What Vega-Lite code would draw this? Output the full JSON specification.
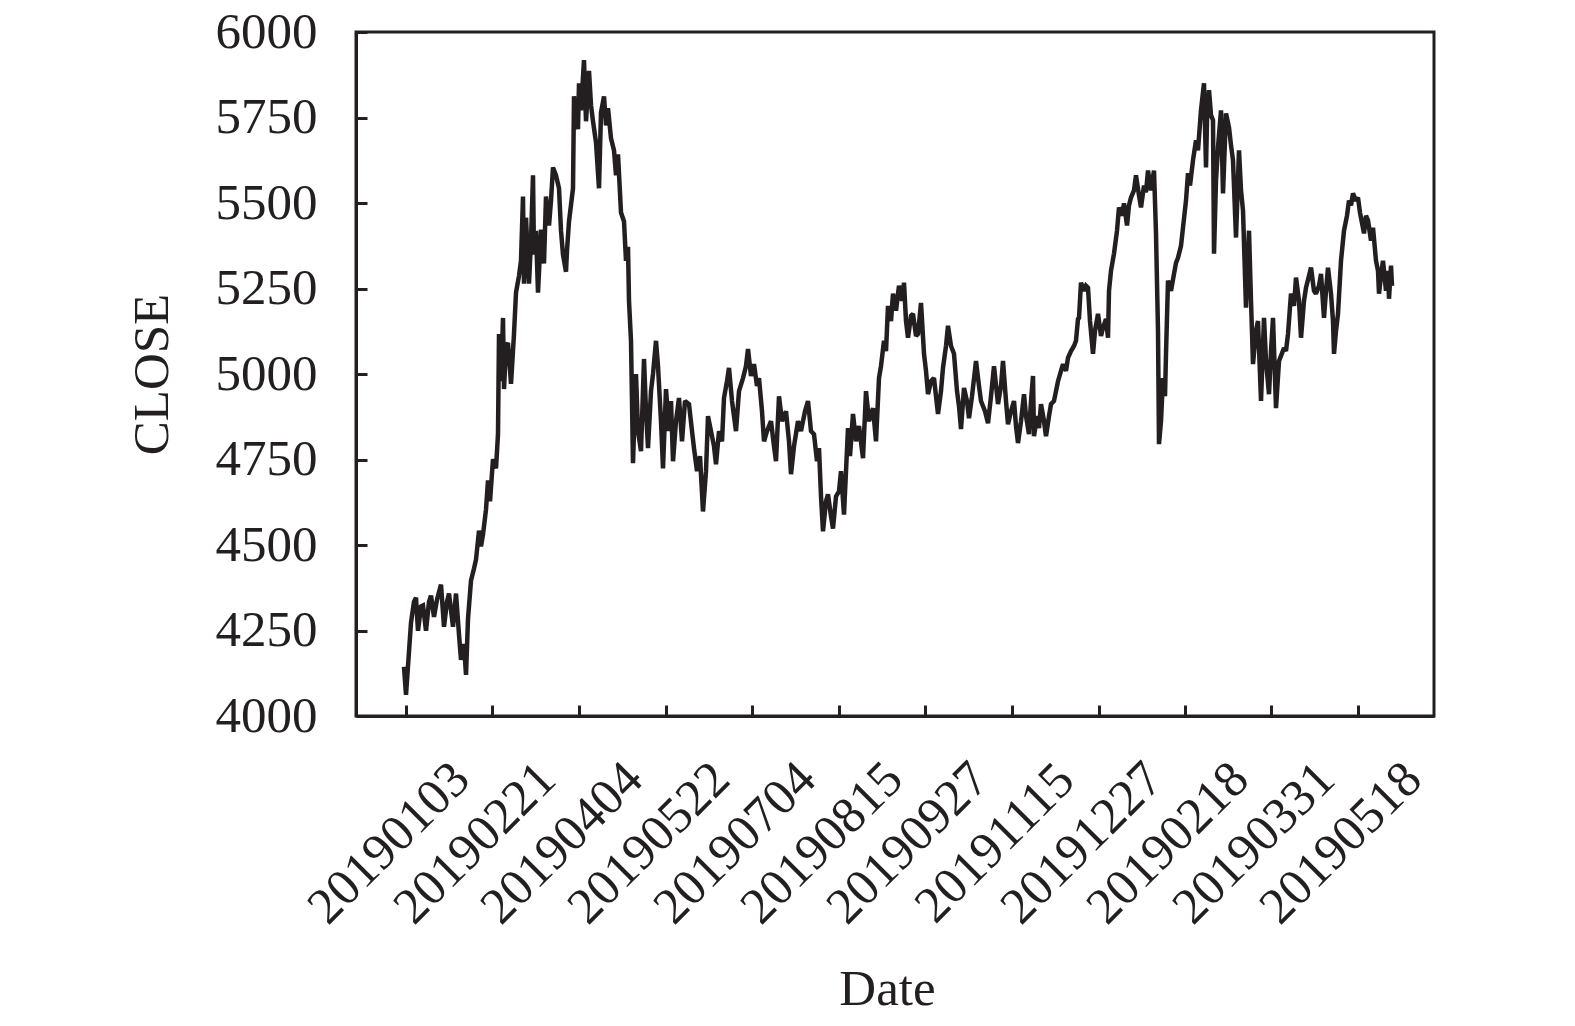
{
  "$schema": "https://vega.github.io/schema/vega-lite/v6.json",
  "autosize": {"type": "none"},
  "padding": {"left": 356, "top": 32, "right": 141, "bottom": 310},
  "width": 1078,
  "height": 684,
  "background": "white",
  "config": {
    "view": {"stroke": "#231f20", "strokeWidth": 3},
    "axis": {
      "labelFont": "Liberation Serif",
      "titleFont": "Liberation Serif",
      "labelFontSize": 51,
      "titleFontSize": 51,
      "labelColor": "#231f20",
      "titleColor": "#231f20",
      "titleFontWeight": "normal",
      "domainColor": "#231f20",
      "domainWidth": 3,
      "tickColor": "#231f20",
      "tickWidth": 3,
      "labelLimit": 0,
      "grid": false
    }
  },
  "data": {
    "values": [
      {"i":48,"close":4144},{"i":50,"close":4062},{"i":53,"close":4188},{"i":55,"close":4273},{"i":58,"close":4334},
      {"i":60,"close":4346},{"i":62,"close":4249},{"i":65,"close":4320},{"i":67,"close":4323},{"i":70,"close":4249},
      {"i":73,"close":4334},{"i":75,"close":4352},{"i":78,"close":4290},{"i":81,"close":4340},{"i":85,"close":4384},
      {"i":88,"close":4261},{"i":91,"close":4334},{"i":93,"close":4358},{"i":97,"close":4261},{"i":100,"close":4358},
      {"i":103,"close":4238},{"i":105,"close":4164},{"i":108,"close":4211},{"i":110,"close":4120},{"i":112,"close":4284},
      {"i":115,"close":4396},{"i":118,"close":4431},{"i":120,"close":4457},{"i":123,"close":4542},{"i":125,"close":4496},
      {"i":127,"close":4531},{"i":130,"close":4604},{"i":132,"close":4689},{"i":134,"close":4628},{"i":137,"close":4751},
      {"i":140,"close":4724},{"i":142,"close":4824},{"i":143,"close":5117},{"i":145,"close":4979},{"i":147,"close":5164},
      {"i":148,"close":4956},{"i":150,"close":5082},{"i":152,"close":5091},{"i":155,"close":4971},{"i":158,"close":5117},
      {"i":160,"close":5238},{"i":163,"close":5287},{"i":165,"close":5331},{"i":167,"close":5519},{"i":168,"close":5264},
      {"i":170,"close":5457},{"i":173,"close":5264},{"i":175,"close":5390},{"i":177,"close":5581},{"i":178,"close":5349},
      {"i":180,"close":5419},{"i":182,"close":5238},{"i":185,"close":5422},{"i":188,"close":5323},{"i":190,"close":5519},
      {"i":193,"close":5434},{"i":195,"close":5507},{"i":197,"close":5604},{"i":200,"close":5581},{"i":203,"close":5543},
      {"i":205,"close":5419},{"i":207,"close":5349},{"i":210,"close":5299},{"i":211,"close":5361},{"i":213,"close":5446},
      {"i":217,"close":5543},{"i":218,"close":5812},{"i":220,"close":5742},{"i":222,"close":5716},{"i":223,"close":5850},
      {"i":225,"close":5771},{"i":228,"close":5918},{"i":230,"close":5739},{"i":233,"close":5886},{"i":235,"close":5786},
      {"i":237,"close":5739},{"i":240,"close":5677},{"i":243,"close":5543},{"i":245,"close":5765},{"i":248,"close":5812},
      {"i":250,"close":5727},{"i":252,"close":5777},{"i":255,"close":5689},{"i":258,"close":5654},{"i":260,"close":5581},
      {"i":262,"close":5642},{"i":265,"close":5472},{"i":268,"close":5446},{"i":270,"close":5331},{"i":272,"close":5372},
      {"i":273,"close":5214},{"i":275,"close":5097},{"i":277,"close":4739},{"i":279,"close":4921},{"i":280,"close":5000},
      {"i":282,"close":4833},{"i":285,"close":4774},{"i":288,"close":5044},{"i":290,"close":4891},{"i":292,"close":4783},
      {"i":295,"close":4950},{"i":297,"close":5000},{"i":300,"close":5097},{"i":302,"close":5023},{"i":305,"close":4862},
      {"i":307,"close":4724},{"i":310,"close":4956},{"i":313,"close":4833},{"i":315,"close":4921},{"i":317,"close":4745},
      {"i":320,"close":4862},{"i":323,"close":4930},{"i":326,"close":4803},{"i":329,"close":4921},{"i":333,"close":4912},
      {"i":336,"close":4833},{"i":338,"close":4783},{"i":341,"close":4716},{"i":344,"close":4760},{"i":347,"close":4598},
      {"i":350,"close":4716},{"i":352,"close":4877},{"i":355,"close":4833},{"i":358,"close":4789},{"i":360,"close":4736},
      {"i":363,"close":4833},{"i":366,"close":4803},{"i":368,"close":4930},{"i":371,"close":4979},{"i":373,"close":5018},
      {"i":376,"close":4921},{"i":380,"close":4833},{"i":383,"close":4950},{"i":387,"close":4988},{"i":390,"close":5023},
      {"i":392,"close":5073},{"i":395,"close":4994},{"i":398,"close":5029},{"i":401,"close":4965},{"i":403,"close":4988},
      {"i":406,"close":4891},{"i":408,"close":4803},{"i":411,"close":4833},{"i":415,"close":4862},{"i":418,"close":4789},
      {"i":420,"close":4745},{"i":423,"close":4935},{"i":426,"close":4862},{"i":430,"close":4891},{"i":433,"close":4803},
      {"i":435,"close":4707},{"i":438,"close":4789},{"i":442,"close":4862},{"i":445,"close":4833},{"i":449,"close":4891},
      {"i":452,"close":4921},{"i":455,"close":4833},{"i":458,"close":4824},{"i":461,"close":4745},{"i":463,"close":4783},
      {"i":465,"close":4642},{"i":467,"close":4540},{"i":470,"close":4628},{"i":472,"close":4648},{"i":475,"close":4584},
      {"i":477,"close":4548},{"i":480,"close":4642},{"i":483,"close":4657},{"i":485,"close":4716},{"i":488,"close":4589},
      {"i":490,"close":4716},{"i":492,"close":4842},{"i":494,"close":4760},{"i":497,"close":4883},{"i":500,"close":4803},
      {"i":503,"close":4848},{"i":507,"close":4754},{"i":510,"close":4950},{"i":513,"close":4862},{"i":517,"close":4900},
      {"i":520,"close":4803},{"i":523,"close":4988},{"i":525,"close":5023},{"i":528,"close":5097},{"i":530,"close":5067},
      {"i":532,"close":5199},{"i":535,"close":5155},{"i":537,"close":5235},{"i":540,"close":5185},{"i":543,"close":5258},
      {"i":546,"close":5214},{"i":548,"close":5267},{"i":550,"close":5155},{"i":552,"close":5106},{"i":555,"close":5170},
      {"i":557,"close":5176},{"i":560,"close":5111},{"i":562,"close":5117},{"i":565,"close":5208},{"i":568,"close":5059},
      {"i":570,"close":5009},{"i":572,"close":4941},{"i":575,"close":4979},{"i":578,"close":4988},{"i":580,"close":4935},
      {"i":582,"close":4883},{"i":585,"close":4950},{"i":587,"close":5018},{"i":590,"close":5082},{"i":592,"close":5141},
      {"i":595,"close":5082},{"i":598,"close":5059},{"i":601,"close":4950},{"i":603,"close":4906},{"i":605,"close":4839},
      {"i":608,"close":4959},{"i":611,"close":4921},{"i":613,"close":4871},{"i":616,"close":4935},{"i":620,"close":5038},
      {"i":623,"close":4965},{"i":625,"close":4921},{"i":629,"close":4891},{"i":632,"close":4856},{"i":635,"close":4935},
      {"i":638,"close":5023},{"i":642,"close":4912},{"i":645,"close":4965},{"i":647,"close":5038},{"i":650,"close":4921},
      {"i":652,"close":4853},{"i":655,"close":4891},{"i":658,"close":4921},{"i":660,"close":4848},{"i":662,"close":4798},
      {"i":665,"close":4862},{"i":668,"close":4941},{"i":670,"close":4877},{"i":673,"close":4824},{"i":675,"close":4921},
      {"i":677,"close":4994},{"i":678,"close":4818},{"i":681,"close":4877},{"i":683,"close":4842},{"i":685,"close":4912},
      {"i":688,"close":4862},{"i":690,"close":4818},{"i":693,"close":4877},{"i":695,"close":4912},{"i":698,"close":4921},
      {"i":700,"close":4950},{"i":702,"close":4979},{"i":705,"close":5009},{"i":707,"close":5029},{"i":710,"close":5009},
      {"i":712,"close":5047},{"i":715,"close":5067},{"i":718,"close":5082},{"i":720,"close":5097},{"i":722,"close":5161},
      {"i":723,"close":5164},{"i":725,"close":5267},{"i":728,"close":5243},{"i":730,"close":5258},{"i":732,"close":5252},
      {"i":734,"close":5155},{"i":737,"close":5059},{"i":739,"close":5126},{"i":742,"close":5176},{"i":745,"close":5111},
      {"i":747,"close":5135},{"i":750,"close":5161},{"i":752,"close":5106},{"i":753,"close":5243},{"i":755,"close":5302},
      {"i":758,"close":5352},{"i":761,"close":5419},{"i":763,"close":5487},{"i":766,"close":5463},{"i":768,"close":5499},
      {"i":771,"close":5434},{"i":773,"close":5493},{"i":775,"close":5516},{"i":778,"close":5537},{"i":780,"close":5581},
      {"i":783,"close":5522},{"i":785,"close":5487},{"i":788,"close":5551},{"i":790,"close":5531},{"i":792,"close":5595},
      {"i":795,"close":5537},{"i":798,"close":5595},{"i":800,"close":5411},{"i":802,"close":5126},{"i":803,"close":4795},
      {"i":805,"close":4862},{"i":807,"close":4988},{"i":809,"close":4935},{"i":810,"close":5059},{"i":812,"close":5273},
      {"i":815,"close":5243},{"i":818,"close":5293},{"i":820,"close":5325},{"i":822,"close":5340},{"i":825,"close":5375},
      {"i":827,"close":5428},{"i":830,"close":5507},{"i":832,"close":5587},{"i":834,"close":5551},{"i":837,"close":5625},
      {"i":840,"close":5683},{"i":842,"close":5654},{"i":845,"close":5771},{"i":848,"close":5850},{"i":850,"close":5604},
      {"i":851,"close":5742},{"i":853,"close":5830},{"i":855,"close":5757},{"i":857,"close":5742},{"i":858,"close":5352},
      {"i":860,"close":5566},{"i":862,"close":5663},{"i":865,"close":5771},{"i":867,"close":5528},{"i":870,"close":5762},
      {"i":873,"close":5721},{"i":875,"close":5669},{"i":877,"close":5625},{"i":880,"close":5399},{"i":883,"close":5654},
      {"i":885,"close":5537},{"i":887,"close":5478},{"i":890,"close":5194},{"i":893,"close":5419},{"i":895,"close":5214},
      {"i":897,"close":5029},{"i":900,"close":5126},{"i":902,"close":5155},{"i":905,"close":4921},{"i":908,"close":5164},
      {"i":910,"close":5038},{"i":913,"close":4941},{"i":915,"close":5067},{"i":917,"close":5164},{"i":920,"close":4900},
      {"i":923,"close":5038},{"i":925,"close":5053},{"i":928,"close":5076},{"i":930,"close":5067},{"i":932,"close":5117},
      {"i":935,"close":5235},{"i":938,"close":5199},{"i":940,"close":5282},{"i":943,"close":5214},{"i":945,"close":5106},
      {"i":948,"close":5214},{"i":950,"close":5252},{"i":953,"close":5287},{"i":955,"close":5311},{"i":958,"close":5243},
      {"i":960,"close":5235},{"i":963,"close":5258},{"i":965,"close":5293},{"i":968,"close":5164},{"i":970,"close":5243},
      {"i":972,"close":5311},{"i":975,"close":5235},{"i":977,"close":5155},{"i":978,"close":5059},{"i":980,"close":5126},
      {"i":982,"close":5176},{"i":985,"close":5331},{"i":988,"close":5419},{"i":991,"close":5463},{"i":993,"close":5507},
      {"i":995,"close":5493},{"i":997,"close":5528},{"i":1000,"close":5507},{"i":1002,"close":5516},{"i":1004,"close":5472},
      {"i":1005,"close":5457},{"i":1008,"close":5411},{"i":1010,"close":5463},{"i":1012,"close":5449},{"i":1015,"close":5390},
      {"i":1017,"close":5428},{"i":1020,"close":5331},{"i":1022,"close":5302},{"i":1023,"close":5235},{"i":1025,"close":5287},
      {"i":1027,"close":5331},{"i":1029,"close":5273},{"i":1030,"close":5243},{"i":1032,"close":5302},{"i":1033,"close":5220},
      {"i":1035,"close":5317},{"i":1036,"close":5258}
    ]
  },
  "mark": {"type": "line", "color": "#231f20", "strokeWidth": 4.5, "strokeJoin": "miter", "strokeMiterLimit": 2},
  "encoding": {
    "x": {
      "field": "i",
      "type": "quantitative",
      "scale": {"domain": [0, 1078], "nice": false, "zero": false},
      "axis": {
        "title": "Date",
        "values": [50, 136, 223, 310, 396, 483, 569, 656, 743, 829, 915, 1002],
        "labelExpr": "['20190103','20190221','20190404','20190522','20190704','20190815','20190927','20191115','20191227','20190218','20190331','20190518'][indexof([50,136,223,310,396,483,569,656,743,829,915,1002], datum.value)]",
        "labelAngle": -45,
        "labelAlign": "center",
        "labelBaseline": "middle",
        "labelOffset": -17,
        "labelPadding": 138,
        "tickSize": -11,
        "labelOverlap": false,
        "labelFlush": false,
        "titleX": 531,
        "titleY": 288,
        "titleAlign": "center",
        "titleBaseline": "alphabetic"
      }
    },
    "y": {
      "field": "close",
      "type": "quantitative",
      "scale": {"domain": [4000, 6000], "nice": false, "zero": false},
      "axis": {
        "title": "CLOSE",
        "values": [4000, 4250, 4500, 4750, 5000, 5250, 5500, 5750, 6000],
        "format": "d",
        "labelPadding": 50,
        "tickSize": -11,
        "labelBaseline": "middle",
        "titleX": -204,
        "titleY": 342,
        "titleAngle": -90,
        "titleAlign": "center",
        "titleBaseline": "middle"
      }
    }
  }
}
